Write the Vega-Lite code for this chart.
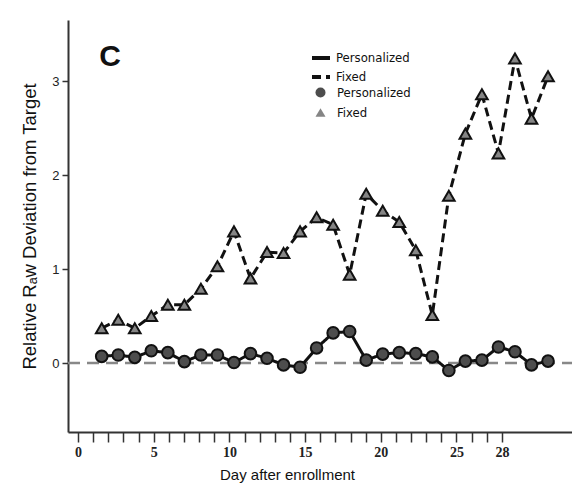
{
  "$schema": "https://vega.github.io/schema/vega-lite/v6.json",
  "width": 504,
  "height": 412,
  "autosize": "none",
  "padding": {"left": 68, "top": 20, "right": 0, "bottom": 55},
  "background": "white",
  "config": {
    "view": {"stroke": null},
    "axis": {"grid": false, "domainColor": "#333", "domainWidth": 2, "tickColor": "#333", "tickWidth": 1.5, "labelColor": "#222", "titleColor": "#111", "titleFontWeight": "normal"}
  },
  "layer": [
    {
      "data": {"values": [{"ref": 0, "start": -0.66, "end": 32.63}]},
      "mark": {"type": "rule", "stroke": "#888", "strokeWidth": 2.5, "strokeDash": [12, 7]},
      "encoding": {
        "x": {"field": "start", "type": "quantitative",
          "scale": {"domain": [-0.66, 32.63], "nice": false, "zero": false},
          "axis": {"values": [0,1,2,3,4,5,6,7,8,9,10,11,12,13,14,15,16,17,18,19,20,21,22,23,24,25,26,27,28],
            "labelExpr": "datum.value % 5 == 0 || datum.value == 28 ? datum.label : ''",
            "title": "Day after enrollment", "titleFont": "Liberation Sans", "titleFontSize": 15, "titleX": 219, "titlePadding": 8,
            "labelFont": "Liberation Serif", "labelFontWeight": "bold", "labelFontSize": 14, "tickSize": 10, "labelPadding": 3,
            "labelOverlap": false, "labelFlush": false}},
        "x2": {"field": "end"},
        "y": {"field": "ref", "type": "quantitative",
          "scale": {"domain": [-0.734, 3.649], "nice": false, "zero": false},
          "axis": {"values": [0, 1, 2, 3], "format": "d", "title": "Relative Rₐw Deviation from Target",
            "titleFont": "Liberation Sans", "titleFontSize": 18.5, "titlePadding": 12,
            "labelFont": "Liberation Sans", "labelFontSize": 13, "tickSize": 6, "labelPadding": 3}}
      }
    },
    {
      "data": {"values": [
        {"day": 1, "group": "Fixed", "value": 0.37},
        {"day": 2, "group": "Fixed", "value": 0.46},
        {"day": 3, "group": "Fixed", "value": 0.37},
        {"day": 4, "group": "Fixed", "value": 0.50},
        {"day": 5, "group": "Fixed", "value": 0.62},
        {"day": 6, "group": "Fixed", "value": 0.62},
        {"day": 7, "group": "Fixed", "value": 0.79},
        {"day": 8, "group": "Fixed", "value": 1.03},
        {"day": 9, "group": "Fixed", "value": 1.40},
        {"day": 10, "group": "Fixed", "value": 0.90},
        {"day": 11, "group": "Fixed", "value": 1.18},
        {"day": 12, "group": "Fixed", "value": 1.17},
        {"day": 13, "group": "Fixed", "value": 1.40},
        {"day": 14, "group": "Fixed", "value": 1.55},
        {"day": 15, "group": "Fixed", "value": 1.47},
        {"day": 16, "group": "Fixed", "value": 0.94},
        {"day": 17, "group": "Fixed", "value": 1.80},
        {"day": 18, "group": "Fixed", "value": 1.62},
        {"day": 19, "group": "Fixed", "value": 1.50},
        {"day": 20, "group": "Fixed", "value": 1.20},
        {"day": 21, "group": "Fixed", "value": 0.51},
        {"day": 22, "group": "Fixed", "value": 1.78},
        {"day": 23, "group": "Fixed", "value": 2.44},
        {"day": 24, "group": "Fixed", "value": 2.86},
        {"day": 25, "group": "Fixed", "value": 2.23},
        {"day": 26, "group": "Fixed", "value": 3.24},
        {"day": 27, "group": "Fixed", "value": 2.60},
        {"day": 28, "group": "Fixed", "value": 3.05},
        {"day": 1, "group": "Personalized", "value": 0.07},
        {"day": 2, "group": "Personalized", "value": 0.085},
        {"day": 3, "group": "Personalized", "value": 0.06},
        {"day": 4, "group": "Personalized", "value": 0.13},
        {"day": 5, "group": "Personalized", "value": 0.11},
        {"day": 6, "group": "Personalized", "value": 0.015},
        {"day": 7, "group": "Personalized", "value": 0.085},
        {"day": 8, "group": "Personalized", "value": 0.085},
        {"day": 9, "group": "Personalized", "value": 0.005},
        {"day": 10, "group": "Personalized", "value": 0.10},
        {"day": 11, "group": "Personalized", "value": 0.05},
        {"day": 12, "group": "Personalized", "value": -0.02},
        {"day": 13, "group": "Personalized", "value": -0.045},
        {"day": 14, "group": "Personalized", "value": 0.16},
        {"day": 15, "group": "Personalized", "value": 0.32},
        {"day": 16, "group": "Personalized", "value": 0.335},
        {"day": 17, "group": "Personalized", "value": 0.03},
        {"day": 18, "group": "Personalized", "value": 0.095},
        {"day": 19, "group": "Personalized", "value": 0.11},
        {"day": 20, "group": "Personalized", "value": 0.10},
        {"day": 21, "group": "Personalized", "value": 0.065},
        {"day": 22, "group": "Personalized", "value": -0.08},
        {"day": 23, "group": "Personalized", "value": 0.02},
        {"day": 24, "group": "Personalized", "value": 0.03},
        {"day": 25, "group": "Personalized", "value": 0.17},
        {"day": 26, "group": "Personalized", "value": 0.12},
        {"day": 27, "group": "Personalized", "value": -0.02},
        {"day": 28, "group": "Personalized", "value": 0.02}
      ]},
      "encoding": {
        "x": {"field": "day", "type": "quantitative", "scale": {"domain": [-1.04, 29.45], "nice": false, "zero": false}, "axis": null},
        "y": {"field": "value", "type": "quantitative", "title": "Relative Rₐw Deviation from Target"}
      },
      "layer": [
        {
          "mark": {"type": "line", "stroke": "#111", "strokeWidth": 3},
          "encoding": {
            "strokeDash": {"field": "group", "type": "nominal", "sort": ["Personalized", "Fixed"],
              "scale": {"range": [[1, 0], [9, 5]]},
              "legend": {"orient": "none", "legendX": 242, "legendY": 27, "title": null, "symbolType": "stroke",
                "symbolStrokeWidth": 4, "symbolSize": 324, "symbolStrokeColor": "#111",
                "labelFont": "Liberation Sans Narrow, DejaVu Sans Condensed, Liberation Sans, sans-serif", "labelFontSize": 13, "labelColor": "#111", "rowPadding": 0}}
          }
        },
        {
          "mark": {"type": "point", "filled": true, "stroke": "#111", "strokeWidth": 2, "size": 135, "opacity": 1},
          "encoding": {
            "shape": {"field": "group", "type": "nominal",
              "scale": {"domain": ["Personalized", "Fixed"], "range": ["circle", "triangle-up"]},
              "legend": {"orient": "none", "legendX": 246, "legendY": 66, "title": null, "labelOffset": 10,
                "labelFont": "Liberation Sans Narrow, DejaVu Sans Condensed, Liberation Sans, sans-serif", "labelFontSize": 13, "labelColor": "#111", "rowPadding": 2, "symbolStrokeColor": "#111", "symbolStrokeWidth": 2}},
            "fill": {"field": "group", "type": "nominal",
              "scale": {"domain": ["Personalized", "Fixed"], "range": ["#4d4d4d", "#858585"]},
              "legend": {"orient": "none", "legendX": 246, "legendY": 66, "title": null, "labelOffset": 10,
                "labelFont": "Liberation Sans Narrow, DejaVu Sans Condensed, Liberation Sans, sans-serif", "labelFontSize": 13, "labelColor": "#111", "rowPadding": 2, "symbolStrokeColor": "#111", "symbolStrokeWidth": 2}}
          }
        },
        {
          "data": {"values": [{"label": "C", "lx": 1.5, "ly": 3.26}]},
          "mark": {"type": "text", "fontSize": 30, "fontWeight": "bold", "font": "Liberation Sans", "align": "center", "baseline": "middle", "color": "#111"},
          "encoding": {
            "x": {"field": "lx", "type": "quantitative"},
            "y": {"field": "ly", "type": "quantitative"},
            "text": {"field": "label"}
          }
        }
      ]
    }
  ],
  "resolve": {"scale": {"x": "independent"}}
}
